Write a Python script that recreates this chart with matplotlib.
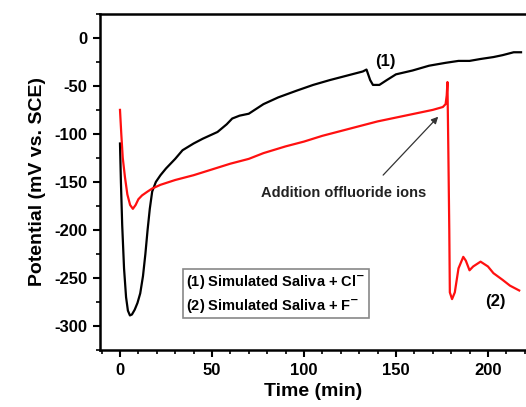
import numpy as np
import matplotlib
matplotlib.use("Agg")
import matplotlib.pyplot as plt
from matplotlib.ticker import MultipleLocator

plt.rcParams['font.family'] = ['Liberation Sans', 'DejaVu Sans']
plt.rcParams['font.weight'] = 'bold'
plt.rcParams['axes.unicode_minus'] = False
plt.rcParams['mathtext.default'] = 'bf'

# (1) simulated saliva + Cl-
cl_time = [0, 0.5, 1.2, 2.2, 3.3, 4.3, 5.4, 6.5, 8, 9.5, 11, 12.5, 13.8, 15, 16.2, 17.5, 19.5,
           22, 25, 30, 34, 40, 45, 53, 58, 61, 65, 70, 78, 86, 96, 105, 114, 124, 132, 134,
           136, 137.5, 141, 145, 150, 159, 168, 177, 184, 190, 196, 203, 208, 214, 218]
cl_pot = [-110, -150, -195, -240, -270, -284, -289, -288, -283, -276, -266, -248, -225, -200,
          -178, -160, -150, -143, -136, -126, -117, -110, -105, -98, -90, -84, -81, -79, -69,
          -62, -55, -49, -44, -39, -35, -33, -44, -49, -49, -44, -38, -34, -29, -26, -24, -24,
          -22, -20, -18, -15, -15]

# (2) simulated saliva + F-
f_time = [0, 0.7, 1.5, 2.7, 4, 5.5, 7, 8.5, 10, 12, 15, 17.4, 22, 30, 40, 50, 60, 70, 78, 90,
          100, 110, 120, 132, 140, 150, 160, 170, 175.5, 177, 177.6, 178, 178.5, 179, 179.3,
          180.5, 182, 184, 186.6, 188, 190, 192, 196, 200, 203, 208, 212, 217]
f_pot = [-75, -100, -125, -145, -163, -174, -178, -174, -168, -164, -160, -157, -153, -148,
         -143, -137, -131, -126, -120, -113, -108, -102, -97, -91, -87, -83, -79, -75, -72,
         -69, -60, -46, -120, -200, -265, -272, -265, -240, -228, -232, -242, -238, -233,
         -238, -245, -252, -258, -263]

legend_lines = [r"(1) Simulated Saliva + Cl$^{-}$", r"(2) Simulated Saliva + F$^{-}$"]

fig = plt.figure(figsize=(5.26, 4.07), dpi=100)
ax = fig.add_axes([0.190, 0.140, 0.810, 0.826])

ax.plot(cl_time, cl_pot, color='black', lw=1.6)
ax.plot(f_time, f_pot, color='#ff1010', lw=1.6)

ax.set_xlim(-10.9, 220.7)
ax.set_ylim(-325, 25)

ax.xaxis.set_major_locator(MultipleLocator(50))
ax.xaxis.set_minor_locator(MultipleLocator(10))
ax.yaxis.set_major_locator(MultipleLocator(50))
ax.yaxis.set_minor_locator(MultipleLocator(25))
ax.tick_params(which='major', length=5, width=1.5, labelsize=12, pad=4)
ax.tick_params(which='minor', length=3, width=1.2)
ax.tick_params(top=False, right=False)
for lab in ax.get_xticklabels() + ax.get_yticklabels():
    lab.set_fontweight('bold')

for s in ('left', 'bottom', 'top'):
    ax.spines[s].set_linewidth(1.8)
ax.spines['right'].set_visible(False)

ax.set_xlabel("Time (min)", fontsize=14, fontweight='bold', labelpad=4)
ax.set_ylabel("Potential (mV vs. SCE)", fontsize=14, fontweight='bold', labelpad=6)

ax.text(144, -25, "(1)", fontsize=12, fontweight='bold', ha='center', va='center')
ax.text(204, -274, "(2)", fontsize=12, fontweight='bold', ha='center', va='center')

ax.annotate('', xy=(174, -80), xytext=(142, -145),
            arrowprops=dict(arrowstyle='-|>', color='#333333', lw=0.9, mutation_scale=10))
ax.text(121.5, -161.5, "Addition offluoride ions", fontsize=10.5, fontweight='bold',
        color='#222222', ha='center', va='center')

ax.text(36, -266.5, "\n".join(legend_lines), fontsize=10.5, fontweight='bold',
        ha='left', va='center', linespacing=1.45,
        bbox=dict(boxstyle='square,pad=0.25', fc='white', ec='#888888', lw=1.2))

fig.savefig("out.png", dpi=100)
